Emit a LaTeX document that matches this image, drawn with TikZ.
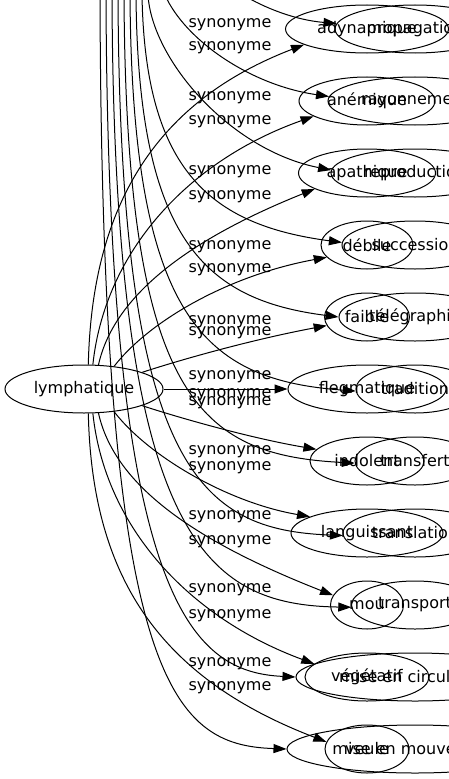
\documentclass[tikz,border=0pt]{standalone}
\usepackage{fontspec}
\setmainfont{DejaVu Sans}
\usetikzlibrary{shapes.geometric,arrows.meta}
\begin{document}
\begin{tikzpicture}[x=1bp,y=-1bp,
  every node/.style={font=\fontsize{16bp}{19bp}\selectfont},
  word/.style={ellipse,draw,line width=1bp,inner sep=0pt,minimum height=48bp},
  lbl/.style={inner sep=0pt},
  syn/.style={draw,line width=1bp,-{Triangle[length=13bp,width=9bp]}},
]
\path[use as bounding box] (0,0) rectangle (449,779);
\clip (0,0) rectangle (449,779);
% hub node
\node[word,minimum width=158bp] (lym) at (84,389) {lymphatique};
% synonyms of lymphatique (column a)
\node[word,minimum width=163bp] (n1a)  at (367,29)  {adynamique};
\node[word,minimum width=136bp] (n2a)  at (367,101) {anémique};
\node[word,minimum width=137bp] (n3a)  at (367,173) {apathique};
\node[word,minimum width=92bp]  (n4a)  at (367,245) {débile};
\node[word,minimum width=85bp]  (n5a)  at (367,317) {faible};
\node[word,minimum width=158bp] (n6a)  at (367,389) {flegmatique};
\node[word,minimum width=114bp] (n7a)  at (367,461) {indolent};
\node[word,minimum width=152bp] (n8a)  at (367,533) {languissant};
\node[word,minimum width=73bp]  (n9a)  at (367,605) {mou};
\node[word,minimum width=124bp] (n10a) at (367,677) {végétatif};
\node[word,minimum width=84bp]  (n11a) at (367,749) {veule};
% second column (b)
\node[word,minimum width=160bp] (n1b)  at (415,29)  {propagation};
\node[word,minimum width=174bp] (n2b)  at (415,101) {rayonnement};
\node[word,minimum width=168bp] (n3b)  at (415,173) {reproduction};
\node[word,minimum width=146bp] (n4b)  at (415,245) {succession};
\node[word,minimum width=152bp] (n5b)  at (415,317) {télégraphie};
\node[word,minimum width=118bp] (n6b)  at (415,389) {tradition};
\node[word,minimum width=120bp] (n7b)  at (415,461) {transfert};
\node[word,minimum width=144bp] (n8b)  at (415,533) {translation};
\node[word,minimum width=127bp] (n9b)  at (415,605) {transport};
\node[word,minimum width=238bp] (n10b) at (415,677) {mise en circulation};
\node[word,minimum width=256bp] (n11b) at (415,749) {mise en mouvement};
% labels
\node[lbl] (l1)  at (230,25)  {synonyme};
\node[lbl] (l2)  at (230,48)  {synonyme};
\node[lbl] (l3)  at (230,98)  {synonyme};
\node[lbl] (l4)  at (230,122) {synonyme};
\node[lbl] (l5)  at (230,172) {synonyme};
\node[lbl] (l6)  at (230,197) {synonyme};
\node[lbl] (l7)  at (230,247) {synonyme};
\node[lbl] (l8)  at (230,270) {synonyme};
\node[lbl] (l9)  at (230,322) {synonyme};
\node[lbl] (l10) at (230,333) {synonyme};
\node[lbl] (l11) at (230,377) {synonyme};
\node[lbl] (l12) at (230,395) {synonyme};
\node[lbl] (l13) at (230,403) {synonyme};
\node[lbl] (l14) at (230,452) {synonyme};
\node[lbl] (l15) at (230,468) {synonyme};
\node[lbl] (l16) at (230,517) {synonyme};
\node[lbl] (l17) at (230,542) {synonyme};
\node[lbl] (l18) at (230,590) {synonyme};
\node[lbl] (l19) at (230,616) {synonyme};
\node[lbl] (l20) at (230,664) {synonyme};
\node[lbl] (l21) at (230,688) {synonyme};
% free ends of the edges coming from above the picture
\coordinate (t1)  at (243,-5);
\coordinate (t2)  at (165,-5);
\coordinate (t3)  at (148,-5);
\coordinate (t4)  at (142,-5);
\coordinate (t5)  at (136,-5);
\coordinate (t6)  at (130,-5);
\coordinate (t7)  at (124,-5);
\coordinate (t8)  at (118,-5);
\coordinate (t9)  at (112,-5);
\coordinate (t10) at (106,-5);
\coordinate (t11) at (100,-5);
% edges from lymphatique
\draw[syn] (lym.80)  .. controls (92,200)  and (160,100) .. (n1a.194);
\draw[syn] (lym.70)  .. controls (105,250) and (190,160) .. (n2a.196);
\draw[syn] (lym.59)  .. controls (115,290) and (200,235) .. (n3a.197);
\draw[syn] (lym.37)  .. controls (150,320) and (230,275) .. (n4a.197);
\draw[syn] (lym.16)  .. controls (180,360) and (250,340) .. (n5a.192);
\draw[syn] (lym.east) -- (n6a.west);
\draw[syn] (lym.-16) .. controls (180,418) and (250,438) .. (n7a.167);
\draw[syn] (lym.-37) .. controls (150,458) and (230,503) .. (n8a.164);
\draw[syn] (lym.-59) .. controls (115,488) and (200,543) .. (n9a.164);
\draw[syn] (lym.-70) .. controls (105,528) and (190,618) .. (n10a.166);
\draw[syn] (lym.-80) .. controls (92,578)  and (160,678) .. (n11a.170);
% edges coming from above
\draw[syn] (t1)  .. controls (265,8)   and (295,20)  .. (n1b.176);
\draw[syn] (t2)  .. controls (185,40)  and (250,85)  .. (n2b.177);
\draw[syn] (t3)  .. controls (152,60)  and (230,150) .. (n3b.178);
\draw[syn] (t4)  .. controls (145,170) and (210,225) .. (n4b.178);
\draw[syn] (t5)  .. controls (138,240) and (205,300) .. (n5b.180);
\draw[syn] (t6)  .. controls (132,320) and (205,380) .. (n6b.182);
\draw[syn] (t7)  .. controls (126,400) and (200,455) .. (n7b.182);
\draw[syn] (t8)  .. controls (120,470) and (200,530) .. (n8b.182);
\draw[syn] (t9)  .. controls (114,540) and (205,605) .. (n9b.182);
\draw[syn] (t10) .. controls (108,600) and (190,672) .. (n10b.180);
\draw[syn] (t11) .. controls (102,680) and (170,745) .. (n11b.180);
\end{tikzpicture}
\end{document}
